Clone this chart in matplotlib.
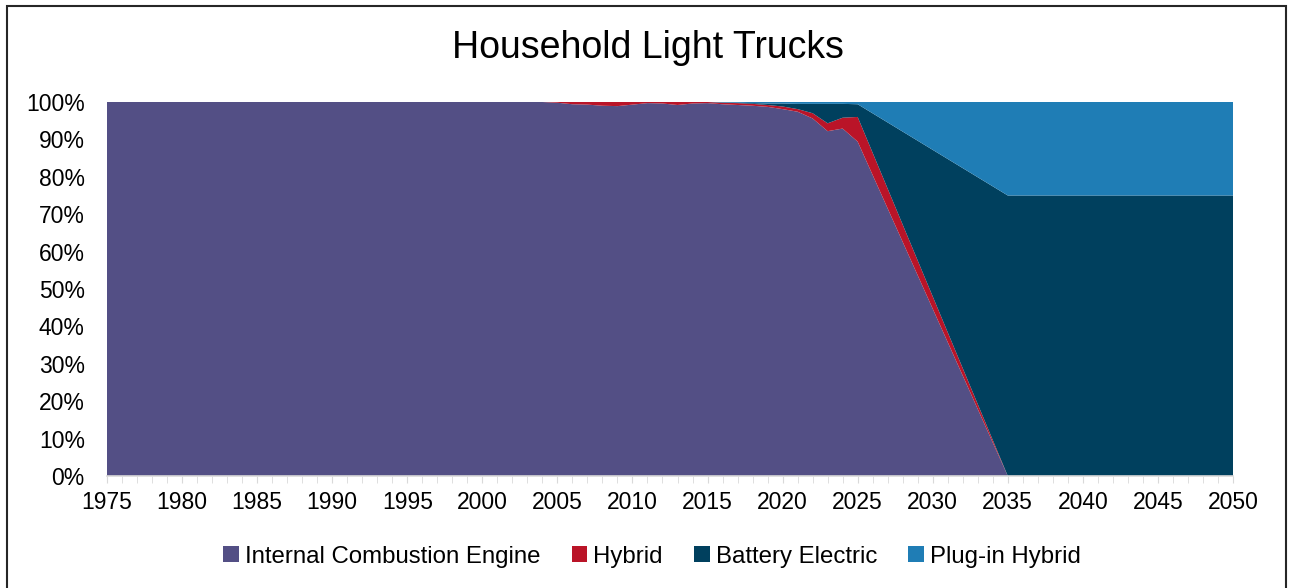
import matplotlib.pyplot as plt
from matplotlib.ticker import MultipleLocator, FuncFormatter
from matplotlib.patches import Rectangle

plt.rcParams['font.family'] = ['Liberation Sans', 'DejaVu Sans']

# share of household light truck stock, percent
years = list(range(1975, 2026)) + [2035, 2050]

ice = [100.0] * 30 + [99.8, 99.4, 99.3, 99.0, 98.9, 99.3, 99.7, 99.6, 99.2, 99.6,
                      99.7, 99.4, 99.2, 99.0, 98.7, 98.1, 97.4, 95.6, 92.2, 92.9,
                      89.4, 0.0, 0.0]
hybrid = [0.0] * 30 + [0.2, 0.6, 0.7, 1.0, 1.1, 0.7, 0.3, 0.4, 0.8, 0.4,
                       0.3, 0.4, 0.5, 0.5, 0.5, 0.7, 0.7, 1.4, 2.1, 2.9,
                       6.6, 0.0, 0.0]
battery = [0.0] * 30 + [0.0, 0.0, 0.0, 0.0, 0.0, 0.0, 0.0, 0.0, 0.0, 0.0,
                        0.0, 0.1, 0.1, 0.2, 0.4, 0.8, 1.4, 2.5, 5.2, 3.7,
                        3.4, 75.0, 75.0]
plugin = [0.0] * 30 + [0.0, 0.0, 0.0, 0.0, 0.0, 0.0, 0.0, 0.0, 0.0, 0.0,
                       0.0, 0.1, 0.2, 0.3, 0.4, 0.4, 0.5, 0.5, 0.5, 0.5,
                       0.6, 25.0, 25.0]

labels = ["Internal Combustion Engine", "Hybrid", "Battery Electric", "Plug-in Hybrid"]
colors = ["#534F85", "#BA1428", "#00405E", "#1F7DB5"]

fig = plt.figure(figsize=(12.91, 5.88), dpi=100)
ax = fig.add_axes([107 / 1291, 1 - 476 / 588, (1233 - 107) / 1291, (476 - 102) / 588])

ax.stackplot(years, ice, hybrid, battery, plugin, colors=colors, labels=labels, linewidth=0)

ax.set_xlim(1975, 2050)
ax.set_ylim(0, 100)
ax.xaxis.set_major_locator(MultipleLocator(5))
ax.xaxis.set_minor_locator(MultipleLocator(1))
ax.yaxis.set_major_locator(MultipleLocator(10))
ax.yaxis.set_major_formatter(FuncFormatter(lambda v, p: f"{v:.0f}%"))

for s in ["top", "right", "left"]:
    ax.spines[s].set_visible(False)
ax.spines["bottom"].set_color("#D9D9D9")
ax.spines["bottom"].set_linewidth(1.2)

ax.tick_params(axis="x", which="both", direction="out", length=5, color="#D9D9D9",
               labelsize=16.5, pad=6)
ax.tick_params(axis="y", length=0, labelsize=16.5, pad=16)

fig.text(0.502, 0.918, "Household Light Trucks", ha="center", va="center", fontsize=27)

handles, labs = ax.get_legend_handles_labels()
leg = fig.legend(handles, labs, loc="center", bbox_to_anchor=(0.505, 0.053), ncol=4,
                 frameon=False, fontsize=17.3, handlelength=0.65, handleheight=0.65,
                 handletextpad=0.25, columnspacing=1.3)

# outer chart border
fig.patches.append(Rectangle((7 / 1291, -0.05), (1286 - 7) / 1291, 1.05 - 6 / 588,
                             transform=fig.transFigure, fill=False,
                             edgecolor="#262626", linewidth=1.5))

fig.savefig("out.png", dpi=100)
